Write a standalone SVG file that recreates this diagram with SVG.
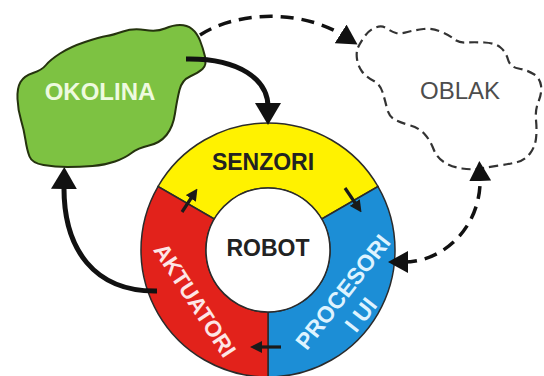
<svg xmlns="http://www.w3.org/2000/svg" width="544" height="376" viewBox="0 0 544 376">
<style>
.seg{stroke:#2b2b2b;stroke-width:1.5}
.solid{fill:none;stroke:#111;stroke-width:5}
.dash{fill:none;stroke:#111;stroke-width:3.5;stroke-dasharray:13 8}
.thin{fill:none;stroke:#1a1a1a;stroke-width:3.2}
.lbl{font-family:"Liberation Sans",Arial,sans-serif;font-weight:bold;text-anchor:middle}
</style>
<defs>
<marker id="big" viewBox="0 0 22 26" refX="4" refY="13" markerWidth="22" markerHeight="26" markerUnits="userSpaceOnUse" orient="auto"><path d="M0,0 L22,13 L0,26 Z" fill="#111"/></marker>
<marker id="mid" viewBox="0 0 20 22" refX="4" refY="11" markerWidth="20" markerHeight="22" markerUnits="userSpaceOnUse" orient="auto-start-reverse"><path d="M0,0 L20,11 L0,22 Z" fill="#111"/></marker>
<marker id="small" viewBox="0 0 12 12" refX="3" refY="6" markerWidth="12" markerHeight="12" markerUnits="userSpaceOnUse" orient="auto"><path d="M0,0 L12,6 L0,12 Z" fill="#1a1a1a"/></marker>
</defs>
<rect width="544" height="376" fill="#fff"/>
<g id="okolina">
<path d="M46,65 Q50,60 60,53.5 Q70,47 85,42 Q100,37 106.5,36 Q113,35 123,31.5 Q133,28 145,30 Q157,32 165,28.5 Q173,25 180,25 Q187,25 192,29 Q197,33 200,40.5 Q203,48 205,56.5 Q207,65 202.5,69 Q198,73 190,76.5 Q182,80 179.5,90 Q177,100 175,113.5 Q173,127 166.5,135 Q160,143 149,145.5 Q138,148 131.5,153 Q125,158 115,161.5 Q105,165 92.5,166 Q80,167 67.5,167 Q55,167 43.5,165 Q32,163 29.5,156.5 Q27,150 25.5,140 Q24,130 21,120 Q18,110 17.5,99 Q17,88 20.5,82 Q24,76 33,73 Q42,70 46,65 Z" fill="#7dc242" stroke="#25330e" stroke-width="2"/>
<text class="lbl" x="100" y="100" font-size="24" fill="#eefadf">OKOLINA</text>
</g>
<g id="oblak">
<path d="M358,47.5 Q360,43 364.5,36.5 Q369,30 375.5,27.5 Q382,25 387,28.5 Q392,32 396,33 Q400,34 407.5,32 Q415,30 423.5,29 Q432,28 440.5,31.5 Q449,35 454,39 Q459,43 466.5,42.5 Q474,42 484.5,42.5 Q495,43 500.5,47.5 Q506,52 508,59.5 Q510,67 518.5,68.5 Q527,70 533.5,74 Q540,78 541,85.5 Q542,93 538.5,101.5 Q535,110 536,120 Q537,130 536,138.5 Q535,147 530,153.5 Q525,160 517.5,162 Q510,164 499.5,165.5 Q489,167 480.5,168.5 Q472,170 462,168.5 Q452,167 444.5,162.5 Q437,158 433.5,149 Q430,140 424.5,134 Q419,128 410.5,125.5 Q402,123 395.5,120 Q389,117 387,108.5 Q385,100 382.5,92 Q380,84 373,80.5 Q366,77 362,71.5 Q358,66 357,59 Q356,52 358,47.5 Z" fill="#fff" stroke="#333" stroke-width="2.2" stroke-dasharray="9 5"/>
<text x="460" y="99" font-family="'Liberation Sans',Arial,sans-serif" font-size="24" text-anchor="middle" fill="#4d4d4d">OBLAK</text>
</g>
<g id="senzori">
<path class="seg" d="M158,186.5 A127,127 0 0 1 378,186.5 L321.7,219 A62,62 0 0 0 214.3,219 Z" fill="#fff200"/>
<text class="lbl" x="263" y="170" font-size="23" fill="#222">SENZORI</text>
</g>
<g id="procesori">
<path class="seg" d="M378,186.5 A127,127 0 0 1 268,377 L268,312 A62,62 0 0 0 321.7,219 Z" fill="#1c8ed6"/>
<g transform="translate(343,292) rotate(-52)">
<text class="lbl" x="0" y="8" font-size="23" fill="#def3ff">PROCESORI</text>
<text class="lbl" x="-7" y="36" font-size="23" fill="#def3ff">I UI</text>
</g>
</g>
<g id="aktuatori">
<path class="seg" d="M268,377 A127,127 0 0 1 158,186.5 L214.3,219 A62,62 0 0 0 268,312 Z" fill="#e2221b"/>
<text class="lbl" transform="translate(195,300) rotate(57)" x="0" y="8" font-size="22.5" fill="#fde6e6">AKTUATORI</text>
</g>
<g id="robot">
<circle cx="268" cy="250" r="62" fill="#fff" stroke="#2b2b2b" stroke-width="1.5"/>
<text class="lbl" x="268" y="256" font-size="23" fill="#222">ROBOT</text>
</g>
<g id="connectors">
<path class="solid" d="M186,59 C240,58 268,80 268,107" marker-end="url(#big)"/>
<path class="solid" d="M157,291 C95,292 63,250 64,185" marker-end="url(#big)"/>
<path class="dash" d="M200,35 C235,12 300,8 344,36" marker-end="url(#mid)"/>
<path class="dash" d="M404,262 C445,262 482,225 480,177" marker-start="url(#mid)" marker-end="url(#mid)"/>
<path class="thin" d="M182,212 L192.5,196" marker-end="url(#small)"/>
<path class="thin" d="M345,188 L356.5,205" marker-end="url(#small)"/>
<path class="thin" d="M281,347 L259,347" marker-end="url(#small)"/>
</g>
</svg>
